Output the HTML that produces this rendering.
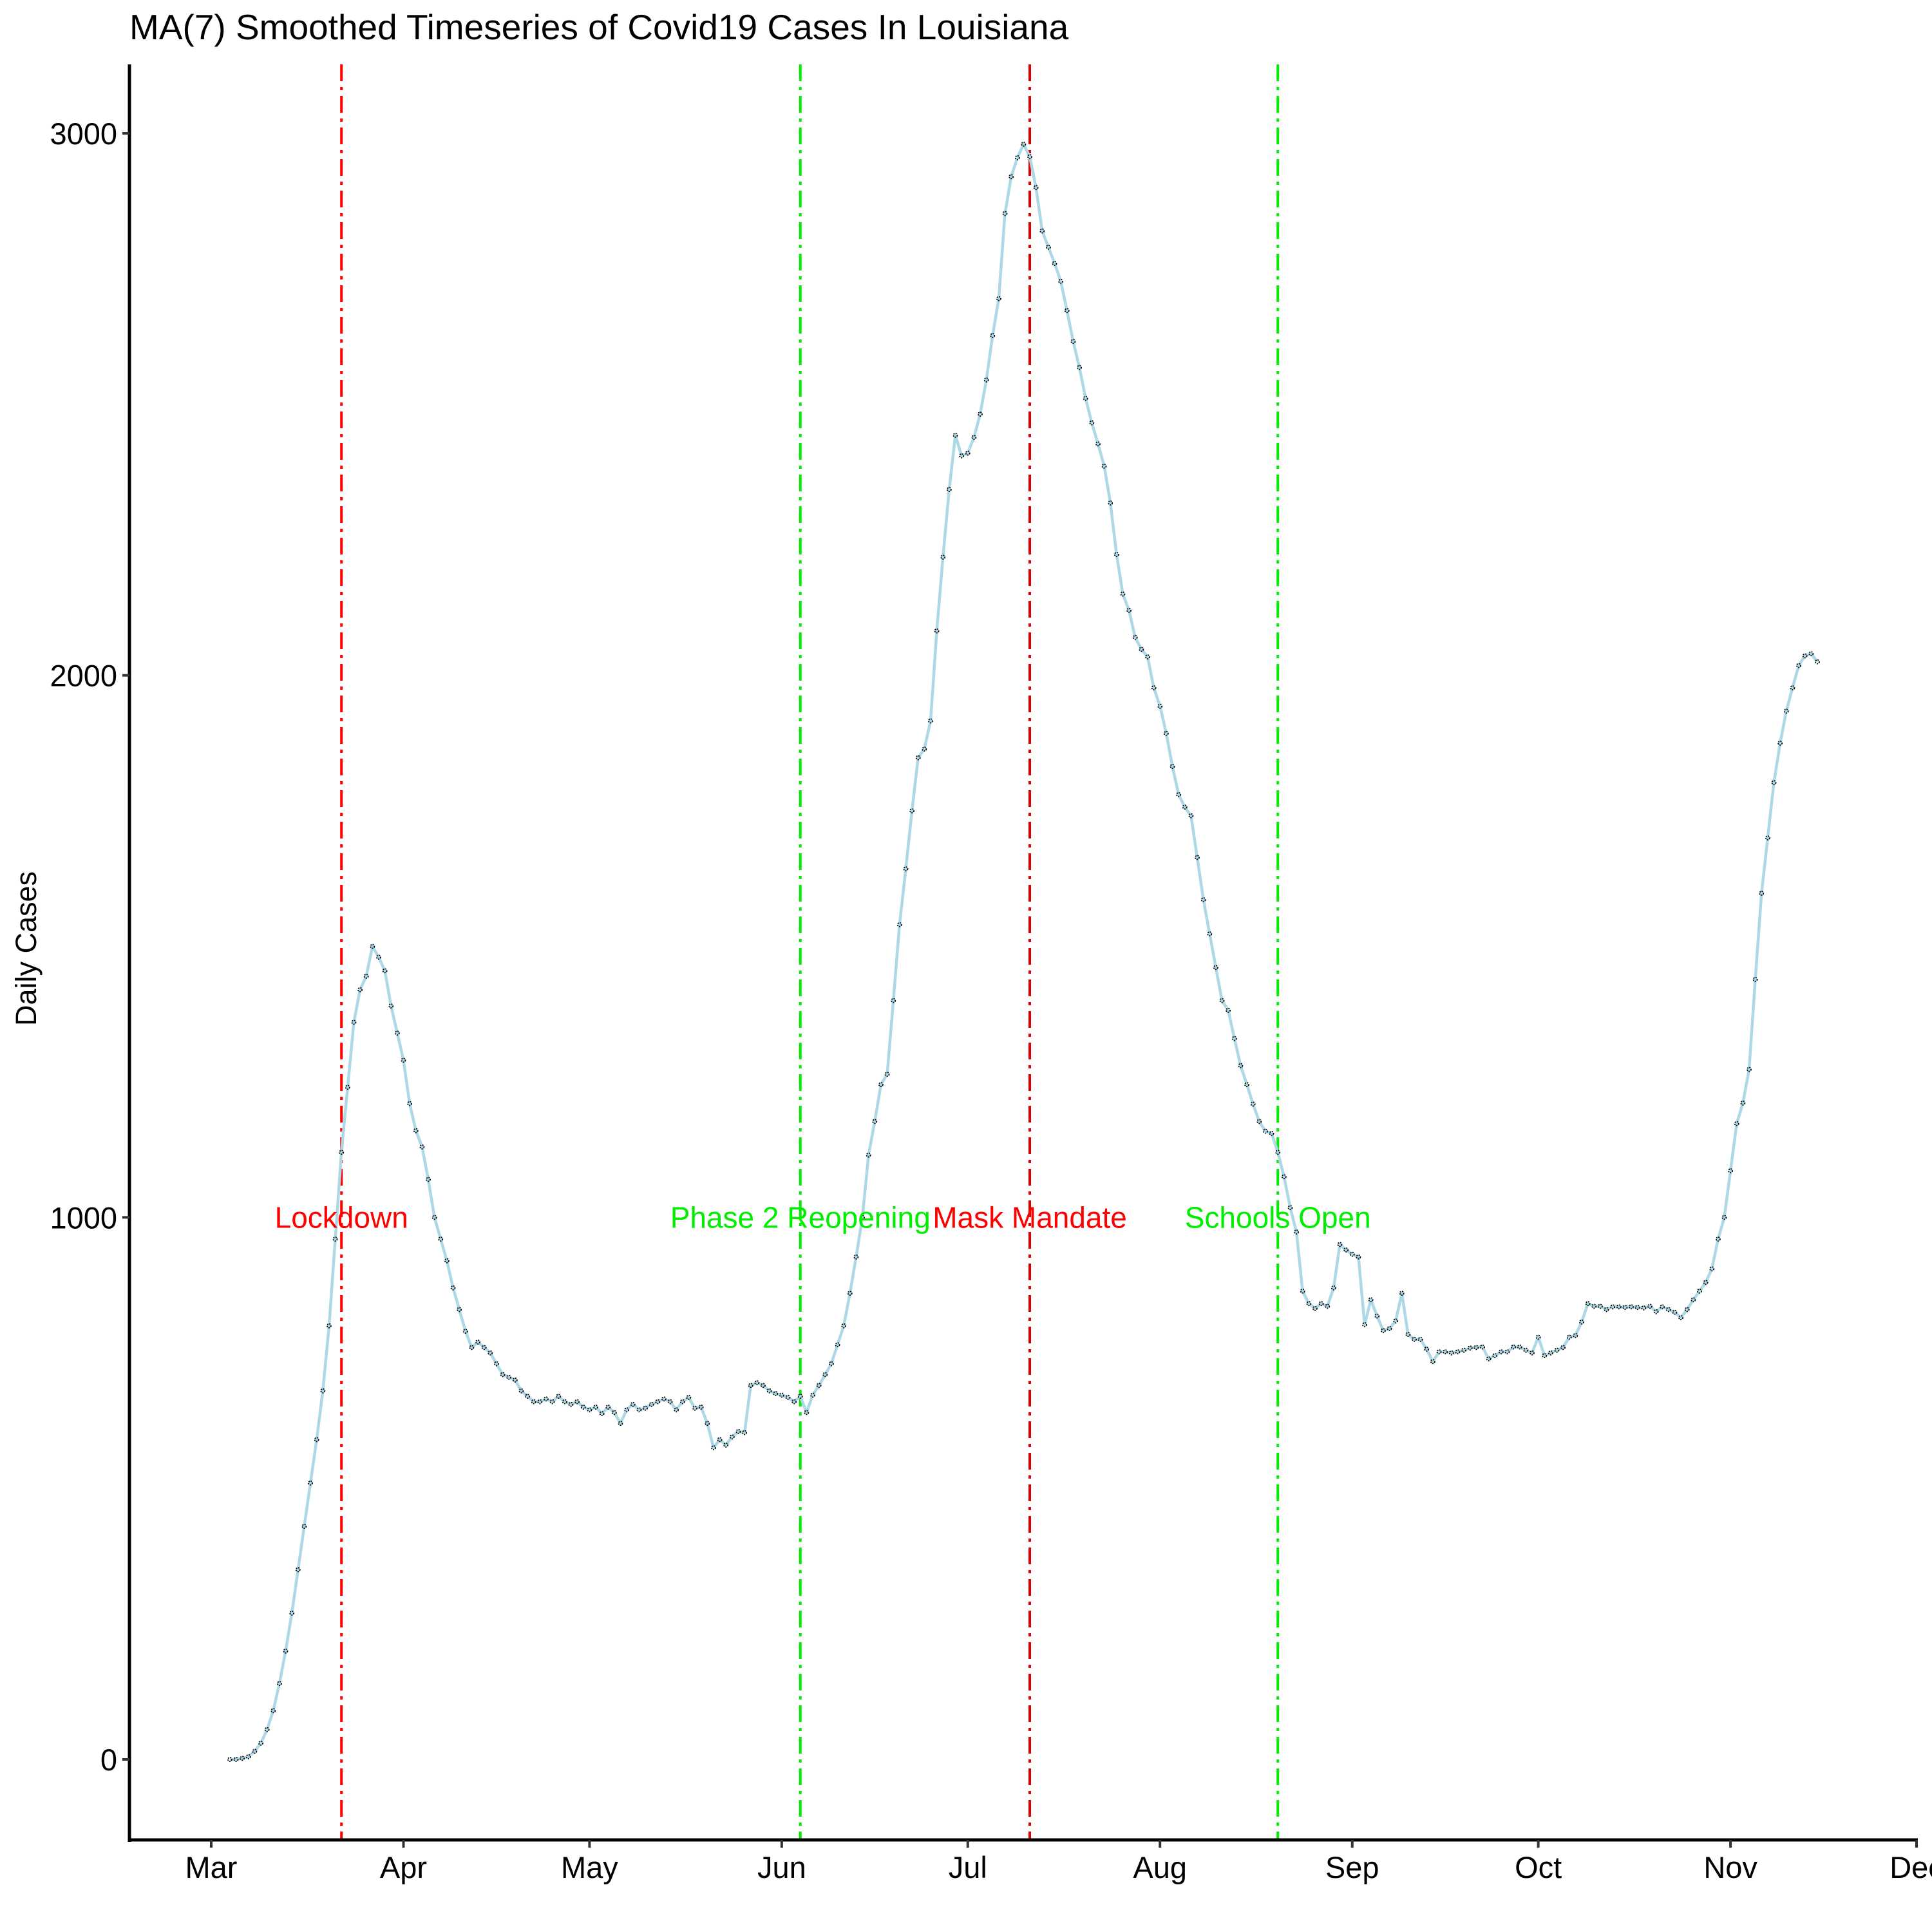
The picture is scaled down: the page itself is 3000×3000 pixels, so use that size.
<!DOCTYPE html>
<html><head><meta charset="utf-8"><title>MA(7) Covid19 Louisiana</title>
<style>html,body{margin:0;padding:0;background:#fff}svg{display:block}text{font-family:"Liberation Sans",Arial,sans-serif}</style>
</head><body>
<svg id="chart" xmlns="http://www.w3.org/2000/svg" width="3000" height="3000" viewBox="0 0 3000 3000">
<rect width="3000" height="3000" fill="#fff"/>
<text x="201" y="61" font-size="55" fill="#000">MA(7) Smoothed Timeseries of Covid19 Cases In Louisiana</text>
<text transform="translate(56,1473) rotate(-90)" text-anchor="middle" font-size="45" fill="#000">Daily Cases</text>
<g id="plot"></g>
</svg>
<script>
const startDay = 3; // Mar 4 (days after Mar 1)
const cases = [
0,0,2,5,15,30,55,90,140,200,270,350,430,510,590,680,800,960,1120,1240,1360,1420,1445,1500,1480,1455,1390,1340,
1290,1210,1160,1130,1070,1000,960,920,870,830,790,760,770,760,750,730,710,705,700,680,670,660,660,665,660,670,660,655,660,650,
645,650,638,650,640,620,645,655,645,648,655,660,665,660,645,660,668,648,650,620,575,590,580,595,605,603,690,695,690,680,675,
672,668,660,670,640,672,690,710,730,765,800,
860,927,1000,1115,1177,1245,1264,1400,1540,1643,1750,1848,1864,1916,2082,2218,2343,2443,2405,2410,
2439,2482,2545,2627,2695,2852,2920,2955,2980,2957,2900,2820,2790,2760,2727,2673,2616,2568,2511,2466,2427,2386,2318,2223,2150,2120,2070,2048,2034,1977,
1943,1893,1832,1780,1757,1741,1664,1586,1523,1461,1400,1382,1330,1280,1245,1209,1177,1159,1155,1120,1075,1018,973,864,841,832,841,836,870,950,940,
932,927,802,848,818,791,795,809,860,784,775,775,757,734,752,752,750,752,755,759,760,761,739,745,752,752,761,761,755,750,
779,745,750,755,760,779,782,807,841,836,836,830,835,835,834,835,834,833,836,826,835,830,825,815,830,848,864,880,905,960,1000,
1086,1173,1211,1273,1439,1598,1700,1802,1875,1934,1977,2018,2036,2040,2025
];
const monthLabels = ["Mar","Apr","May","Jun","Jul","Aug","Sep","Oct","Nov","Dec"];
const monthDays = [0,31,61,92,122,153,184,214,245,275];
const yTicks = [0,1000,2000,3000];
const eventNames = ["Lockdown","Phase 2 Reopening","Mask Mandate","Schools Open"];
const eventDays = [21,95,132,172];
const eventColors = ["#ff0000","#00ee00","#e00000","#00ee00"];
const eventLabelValue = 1000;

const X0=328, KX=(2976-328)/275;
const Y0=2732, KY=(2732-207)/3000;
const xs = d => X0 + KX*d;
const ys = v => Y0 - KY*v;
const NS="http://www.w3.org/2000/svg";
const g=document.getElementById('plot');
function mk(tag, attrs){const e=document.createElementNS(NS,tag);for(const k in attrs)e.setAttribute(k,attrs[k]);g.appendChild(e);return e;}

eventDays.forEach((d,i)=>{
  const l=mk('line',{x1:xs(d),x2:xs(d),y1:100,y2:2856,stroke:eventColors[i],'stroke-width':4,'stroke-dasharray':'26 9 5 9'});
  
  
});

let pts=cases.map((v,i)=>xs(startDay+i).toFixed(1)+','+ys(v).toFixed(1)).join(' ');
const pl=mk('polyline',{points:pts,fill:'none',stroke:'#add8e6','stroke-width':4.5,'stroke-linejoin':'round'});


cases.forEach((v,i)=>{
  const c=mk('circle',{cx:xs(startDay+i),cy:ys(v),r:3,fill:'none',stroke:'#000','stroke-width':1.8,'stroke-dasharray':'2 1.5'});
  
  
});

eventDays.forEach((d,i)=>{
  const t=mk('text',{x:xs(d),y:ys(eventLabelValue)+16,'text-anchor':'middle','font-size':46,fill:eventColors[i]==="#e00000"?"#ff0000":eventColors[i]});
  t.textContent=eventNames[i];
  
  
});

const ya=mk('line',{x1:201,x2:201,y1:100,y2:2860,stroke:'#000','stroke-width':5});


const xa=mk('line',{x1:199,x2:2978,y1:2857,y2:2857,stroke:'#000','stroke-width':5});


yTicks.forEach(v=>{
  const t=mk('line',{x1:190,x2:201,y1:ys(v),y2:ys(v),stroke:'#333','stroke-width':4});
  
  
  const l=mk('text',{x:182,y:ys(v)+17,'text-anchor':'end','font-size':47,fill:'#000'});
  l.textContent=String(v);
  
  
});
monthDays.forEach((d,i)=>{
  const t=mk('line',{x1:xs(d),x2:xs(d),y1:2857,y2:2869,stroke:'#333','stroke-width':4});
  
  
  const l=mk('text',{x:xs(d),y:2916,'text-anchor':'middle','font-size':47,fill:'#000'});
  l.textContent=monthLabels[i];
  
  
});
</script>
</body></html>
